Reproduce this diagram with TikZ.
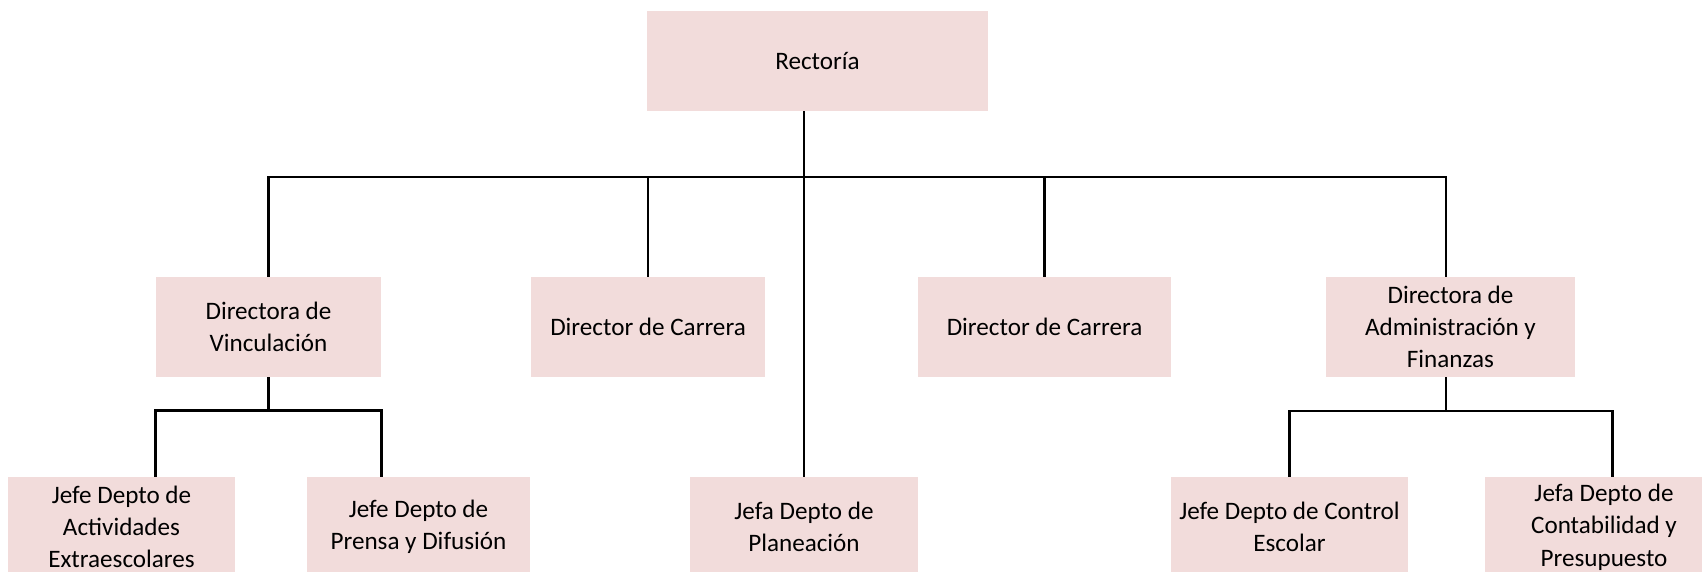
\documentclass[tikz,border=0pt]{standalone}
\usepackage{fontspec}
\setmainfont{Carlito}
\usepackage{xcolor}
\usepackage{tikz}
\usetikzlibrary{positioning,calc}
\definecolor{rosa}{RGB}{242,220,219}
\tikzset{caja/.style={fill=rosa,minimum height=2cm,inner sep=2pt,align=center,font=\fontsize{14.3}{18.4}\selectfont},
	linea/.style={line width=1.6pt}}

\begin{document}
\begin{tikzpicture}
	\useasboundingbox (0,0) rectangle (34.04,-11.44);
	\clip (0,0) rectangle (34.04,-11.44);
	% nivel 1
	\node[caja,minimum width=6.82cm] (rect) at (16.35,-1.22) {Rectoría};
	% nivel 2
	\node[caja,minimum width=4.5cm] (vinc) at (5.37,-6.54) {Directora de\\Vinculación};
	\node[caja,minimum width=4.68cm] (ddc1) at (12.96,-6.54) {Director de Carrera};
	\node[caja,minimum width=5.06cm] (ddc2) at (20.89,-6.54) {Director de Carrera};
	\node[caja,minimum width=4.98cm] (admin) at (29.01,-6.54) {Directora de\\Administración y\\Finanzas};
	% nivel 3
	\node[caja,minimum width=4.54cm] (acti) at (2.43,-10.54) {Jefe Depto de\\Actividades\\Extraescolares};
	\node[caja,minimum width=4.46cm] (prensa) at (8.37,-10.54) {Jefe Depto de\\Prensa y Difusión};
	\node[caja,minimum width=4.56cm] (plan) at (16.08,-10.54) {Jefa Depto de\\Planeación};
	\node[caja,minimum width=4.74cm] (ctrl) at (25.79,-10.54) {Jefe Depto de Control\\Escolar};
	\node[caja,minimum width=4.76cm] (conta) at (32.08,-10.54) {Jefa Depto de\\Contabilidad y\\Presupuesto};
	% lineas
	\coordinate (bus) at (0,-3.54);
	\coordinate (subv) at (0,-8.21);
	\coordinate (adm) at ($(admin.north)+(-0.09,0)$);
	\coordinate (contr) at (32.25,-8.22);
	\draw[linea] (rect.south -| plan.north) -- (plan.north);
	\draw[linea] (vinc.north) |- (bus -| adm) -- (adm);
	\foreach \n in {ddc1,ddc2}
		\draw[linea] (\n.north |- bus) -- (\n.north);
	\draw[linea] (vinc.south) -- (vinc.south |- subv);
	\draw[linea] (acti.north -| vinc.west) |- (subv -| vinc.east) -- (prensa.north -| vinc.east);
	\draw[linea] (admin.south -| adm) -- (adm |- contr);
	\draw[linea] (ctrl.north) |- (contr) -- (contr |- conta.north);
\end{tikzpicture}
\end{document}
